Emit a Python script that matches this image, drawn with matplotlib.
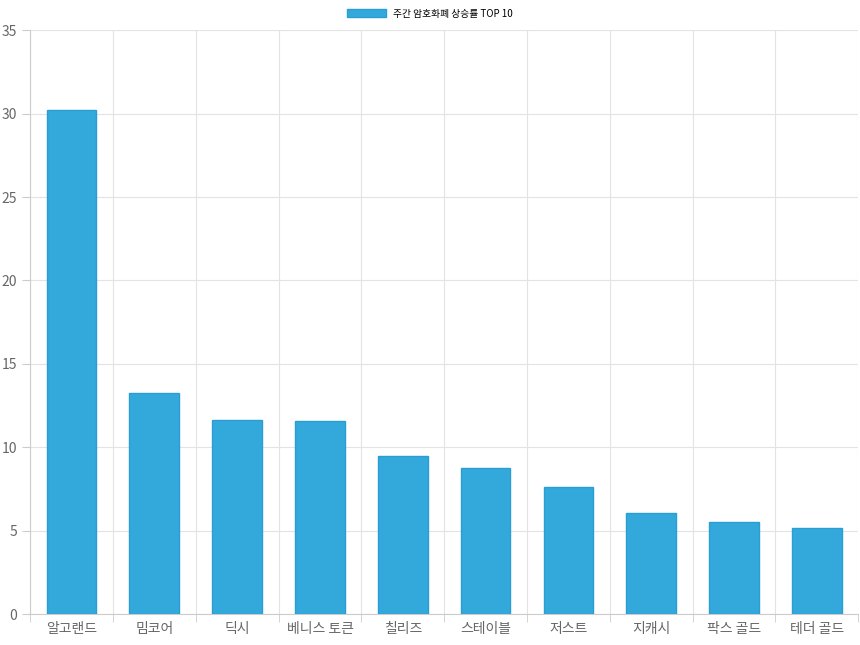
import matplotlib
matplotlib.use("Agg")
import matplotlib.pyplot as plt

plt.rcParams['font.family'] = ['Noto Sans CJK KR', 'DejaVu Sans']

categories = ["알고랜드", "밈코어", "딕시", "베니스 토큰", "칠리즈", "스테이블", "저스트", "지캐시", "팍스 골드", "테더 골드"]
values = [30.2, 13.25, 11.65, 11.55, 9.45, 8.75, 7.6, 6.05, 5.5, 5.15]
series_name = "주간 암호화폐 상승률 TOP 10"

fig = plt.figure(figsize=(8.6, 6.45), dpi=100)
ax = fig.add_axes([0.035, 0.048, 0.963, 0.905])
x = list(range(len(categories)))
ax.bar(x, values, width=0.6, color="#33a8da", edgecolor="#2a9ed4", linewidth=1, label=series_name, zorder=3)
ax.set_xlim(-0.5, len(categories) - 0.5)
ax.set_ylim(0, 35)
ax.set_yticks(range(0, 36, 5))
ax.set_xticks(x)
ax.set_xticklabels(categories)
ax.set_xticks([i - 0.5 for i in range(len(categories) + 1)], minor=True)
ax.grid(True, axis='y', color="#e3e3e3", linewidth=0.8, zorder=0)
ax.grid(True, axis='x', which='minor', color="#e3e3e3", linewidth=0.8, zorder=0)
ax.tick_params(axis='x', which='major', length=0, labelsize=10, labelcolor="#666666", pad=6)
ax.tick_params(axis='x', which='minor', length=6, color="#cccccc")
ax.tick_params(axis='y', length=6, color="#cccccc", labelsize=10, labelcolor="#666666")
for s in ['top', 'right']:
    ax.spines[s].set_visible(False)
for s in ['left', 'bottom']:
    ax.spines[s].set_color("#cccccc")
fig.legend(loc='upper center', bbox_to_anchor=(0.5, 1.0), frameon=False, fontsize=7,
           handlelength=4, handleheight=0.9)
fig.savefig("out.png", dpi=100)
